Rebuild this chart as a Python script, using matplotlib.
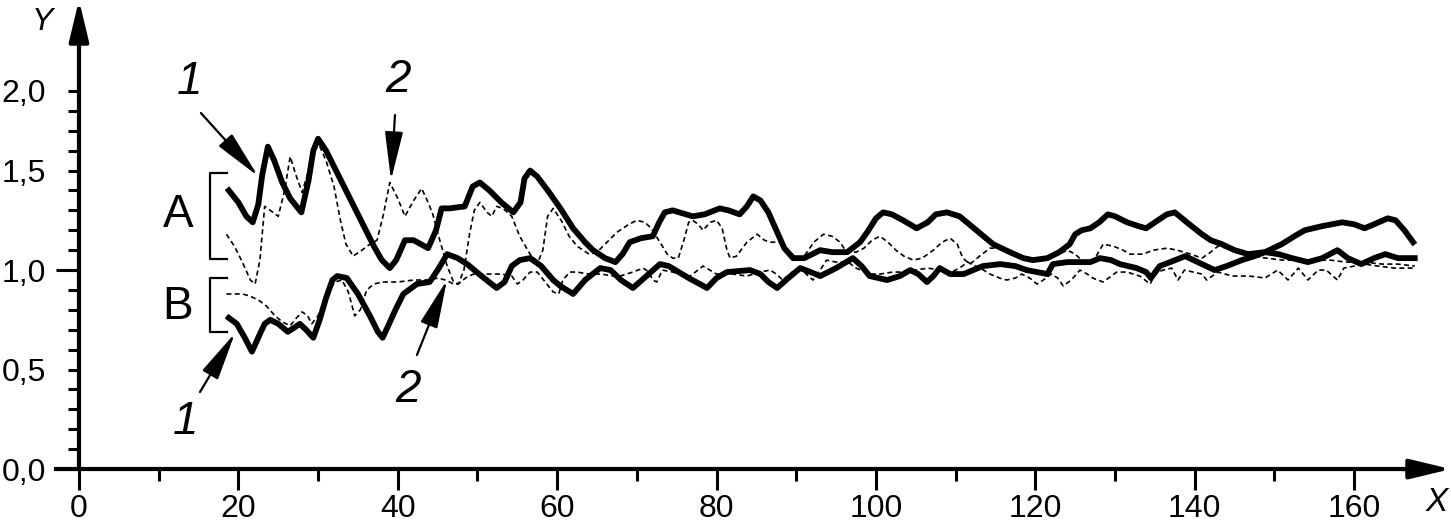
import matplotlib.pyplot as plt

plt.rcParams['font.family'] = ['Liberation Sans', 'DejaVu Sans']

# curve A, line 1 (thick solid)
a1_x = [18.8, 20.0, 21.0, 21.8, 22.5, 23.0, 23.7, 24.5, 25.5, 26.5, 27.9, 28.8, 29.4, 30.0, 31.0,
        32.5, 34.0, 35.5, 37.0, 38.0, 39.0, 39.8, 40.9, 42.0, 43.8, 44.8, 45.5, 46.5, 48.4, 49.4,
        50.3, 51.5, 53.0, 54.5, 55.4, 55.9, 56.6, 57.5, 59.0, 60.4, 62.0, 63.5, 64.5, 66.0, 67.3,
        68.2, 69.1, 70.5, 72.0, 72.8, 73.5, 74.5, 77.0, 78.5, 80.4, 81.5, 82.9, 83.8, 84.6, 85.5,
        86.5, 87.5, 88.5, 89.6, 91.0, 93.0, 94.5, 96.4, 98.0, 98.9, 100.0, 100.9, 102.0, 103.4,
        105.1, 106.5, 107.5, 108.9, 110.5, 112.0, 113.5, 114.7, 116.8, 118.5, 119.7, 121.5, 123.0,
        124.3, 125.0, 125.8, 126.9, 128.0, 129.1, 130.0, 131.5, 133.0, 133.9, 135.0, 136.5, 137.5,
        139.0, 140.9, 142.0, 143.4, 145.0, 146.7, 148.8, 150.9, 152.5, 153.8, 155.9, 158.5, 160.0,
        161.3, 162.5, 164.2, 165.2, 166.3, 167.4]
a1_y = [1.40, 1.34, 1.27, 1.24, 1.33, 1.48, 1.62, 1.55, 1.44, 1.36, 1.29, 1.45, 1.60, 1.66, 1.60,
        1.48, 1.36, 1.24, 1.12, 1.05, 1.01, 1.05, 1.15, 1.15, 1.11, 1.20, 1.31, 1.31, 1.32, 1.42,
        1.44, 1.40, 1.34, 1.29, 1.34, 1.46, 1.50, 1.47, 1.39, 1.31, 1.21, 1.14, 1.10, 1.06, 1.04,
        1.08, 1.14, 1.16, 1.17, 1.24, 1.29, 1.30, 1.27, 1.28, 1.31, 1.30, 1.28, 1.32, 1.37, 1.35,
        1.29, 1.20, 1.11, 1.06, 1.06, 1.10, 1.09, 1.09, 1.14, 1.19, 1.26, 1.29, 1.28, 1.25,
        1.21, 1.24, 1.28, 1.29, 1.27, 1.22, 1.17, 1.13, 1.09, 1.06, 1.05, 1.06, 1.09,
        1.13, 1.18, 1.20, 1.21, 1.24, 1.28, 1.27, 1.24, 1.22, 1.21, 1.24, 1.28, 1.29,
        1.24, 1.18, 1.15, 1.13, 1.10, 1.08, 1.09, 1.13, 1.17, 1.20, 1.22, 1.24, 1.23,
        1.21, 1.23, 1.26, 1.25, 1.20, 1.14]

# curve A, line 2 (thin dashed)
a2_x = [18.5, 19.5, 20.5, 21.5, 22.1, 22.7, 23.3, 24.0, 25.0, 25.8, 26.5, 27.2, 28.0, 28.8, 29.6,
        30.0, 31.0, 32.0, 32.8, 33.5, 34.4, 35.5, 36.5, 37.4, 38.2, 39.0, 40.0, 40.9, 42.0, 43.0,
        43.8, 44.4, 45.2, 46.2, 47.0, 47.6, 48.3, 49.0, 49.6, 50.3, 51.2, 51.8, 52.4, 53.2, 54.3,
        55.3, 56.6, 57.6, 58.2, 58.8, 59.5, 60.5, 61.5, 62.5, 64.0, 65.0, 66.0, 67.5, 69.0, 70.0,
        71.0, 71.8, 72.9, 73.8, 74.5, 75.2, 75.9, 76.5, 77.0, 77.7, 78.3, 79.2, 80.0, 80.7, 81.3,
        81.7, 82.5, 83.8, 85.1, 86.0, 86.7, 88.0, 89.0, 90.0, 91.0, 92.2, 93.4, 94.5, 95.5, 96.3,
        97.5, 98.5, 99.5, 100.5, 101.5, 102.5, 103.5, 104.7, 105.8, 107.2, 108.3, 109.3, 110.2,
        110.9, 111.8, 113.0, 114.3, 115.5, 116.8, 118.5, 120.0, 121.5, 123.0, 124.0, 125.0, 125.8,
        126.8, 127.5, 128.5, 129.8, 131.0, 131.9, 133.5, 134.8, 136.5, 137.8, 139.5, 140.9, 142.0,
        142.9, 144.0, 145.5, 147.0, 149.0, 151.0, 153.0, 155.0, 157.0, 159.0, 161.3, 163.5, 165.5,
        167.6]
a2_y = [1.18, 1.12, 1.04, 0.95, 0.93, 1.05, 1.32, 1.30, 1.27, 1.40, 1.57, 1.48, 1.39, 1.50, 1.62,
        1.64, 1.55, 1.42, 1.25, 1.13, 1.07, 1.10, 1.13, 1.15, 1.28, 1.44, 1.36, 1.27, 1.35, 1.41,
        1.34, 1.28, 1.16, 1.02, 0.94, 0.93, 1.00, 1.18, 1.30, 1.34, 1.29, 1.27, 1.32, 1.31, 1.27,
        1.17, 1.08, 1.04, 1.10, 1.27, 1.31, 1.25, 1.17, 1.12, 1.08, 1.09, 1.13, 1.19, 1.23, 1.25,
        1.24, 1.21, 1.14, 1.08, 1.06, 1.06, 1.15, 1.24, 1.25, 1.23, 1.20, 1.24, 1.25, 1.21, 1.10,
        1.06, 1.07, 1.14, 1.18, 1.15, 1.14, 1.14, 1.10, 1.06, 1.07, 1.14, 1.18, 1.17, 1.14, 1.09,
        1.09, 1.11, 1.15, 1.17, 1.14, 1.10, 1.07, 1.05, 1.06, 1.10, 1.14, 1.16, 1.13,
        1.06, 1.03, 1.07, 1.11, 1.11, 1.09, 1.06, 1.05, 1.06, 1.08, 1.10, 1.08, 1.05,
        1.04, 1.06, 1.13, 1.12, 1.10, 1.08, 1.08, 1.10, 1.11, 1.10, 1.08, 1.06, 1.09,
        1.12, 1.11, 1.09, 1.07, 1.06, 1.05, 1.05, 1.05, 1.05, 1.04, 1.04, 1.03, 1.03,
        1.02]

# curve B, line 1 (thick solid)
b1_x = [18.8, 19.8, 20.8, 21.7, 22.6, 23.3, 24.0, 25.0, 26.2, 27.0, 27.7, 28.5, 29.4, 30.2, 31.0,
        31.8, 32.4, 33.6, 35.0, 36.5, 37.5, 38.1, 38.8, 39.7, 40.7, 42.4, 44.0, 45.0, 46.2, 47.5,
        48.7, 50.5, 52.4, 53.4, 54.3, 55.3, 56.6, 58.0, 59.5, 60.4, 62.0, 63.5, 65.4, 66.7, 68.0,
        69.5, 71.2, 72.9, 74.0, 76.5, 78.8, 80.0, 81.3, 84.2, 85.5, 86.5, 87.6, 89.0, 90.5, 91.8,
        93.0, 95.0, 97.1, 98.2, 99.2, 101.4, 103.0, 104.3, 105.3, 106.4, 107.2, 108.0, 109.3,
        111.0, 112.2, 113.4, 115.6, 117.5, 118.9, 121.5, 122.2, 124.0, 126.9, 128.1, 129.5, 130.6,
        132.7, 133.9, 134.5, 135.6, 136.9, 138.8, 140.9, 142.5, 144.0, 145.9, 147.5, 148.8, 150.5,
        152.2, 154.2, 156.0, 157.9, 159.2, 160.9, 162.5, 163.9, 165.5, 167.6]
b1_y = [0.76, 0.73, 0.66, 0.59, 0.67, 0.73, 0.75, 0.73, 0.69, 0.71, 0.73, 0.70, 0.66, 0.75, 0.86,
        0.95, 0.97, 0.96, 0.88, 0.77, 0.69, 0.66, 0.72, 0.80, 0.88, 0.93, 0.94, 1.00, 1.08, 1.06,
        1.03, 0.97, 0.91, 0.94, 1.02, 1.05, 1.06, 1.02, 0.95, 0.92, 0.88, 0.95, 1.01, 1.00, 0.95,
        0.91, 0.97, 1.03, 1.02, 0.96, 0.91, 0.96, 0.99, 1.00, 0.98, 0.94, 0.91, 0.96, 1.01, 0.99,
        0.97, 1.01, 1.06, 1.02, 0.97, 0.95, 0.97, 1.00, 0.98, 0.94, 0.97, 1.01, 0.98,
        0.98, 1.00, 1.02, 1.03, 1.02, 1.00, 0.98, 1.03, 1.04, 1.04, 1.06, 1.05, 1.03,
        1.01, 0.99, 0.96, 1.02, 1.04, 1.07, 1.03, 1.00, 1.02, 1.05, 1.07, 1.09, 1.08,
        1.06, 1.04, 1.06, 1.10, 1.06, 1.03, 1.06, 1.08, 1.06, 1.06]

# curve B, line 2 (thin dashed)
b2_x = [18.5, 19.5, 20.5, 21.4, 22.5, 23.5, 24.6, 25.5, 26.5, 27.3, 28.0, 28.7, 29.2, 30.0, 31.0,
        32.1, 33.0, 33.8, 34.6, 35.3, 36.1, 37.0, 38.1, 40.0, 42.0, 44.0, 45.0, 46.0, 47.0, 47.6,
        48.5, 49.5, 51.0, 53.0, 54.3, 55.0, 55.7, 56.6, 57.5, 58.5, 59.5, 60.2, 60.7, 61.6, 62.5,
        64.0, 65.5, 67.0, 67.9, 69.5, 70.8, 71.5, 72.0, 72.5, 73.2, 74.5, 76.0, 76.7, 78.3, 80.0,
        82.0, 83.8, 85.5, 86.7, 87.5, 88.3, 89.5, 90.5, 91.5, 92.1, 93.0, 93.8, 95.0, 96.5, 97.5,
        99.2, 100.5, 102.1, 103.6, 105.0, 106.5, 108.0, 109.5, 110.5, 111.5, 112.5, 113.5, 114.3,
        115.5, 116.4, 117.5, 118.3, 119.3, 120.2, 121.0, 122.0, 122.8, 123.5, 124.5, 125.6, 126.5,
        127.2, 128.5, 130.2, 131.5, 133.1, 134.4, 135.0, 136.0, 137.1, 137.9, 138.7, 139.8, 140.9,
        141.5, 142.9, 144.7, 146.8, 148.8, 150.4, 151.7, 153.0, 154.2, 155.5, 156.5, 157.9, 158.7,
        160.0, 161.3, 163.0, 165.0, 167.6]
b2_y = [0.88, 0.88, 0.88, 0.87, 0.85, 0.82, 0.77, 0.74, 0.72, 0.76, 0.79, 0.77, 0.73, 0.77, 0.87,
        0.94, 0.95, 0.89, 0.77, 0.80, 0.90, 0.93, 0.94, 0.94, 0.95, 0.95, 0.96, 0.95, 0.93, 0.93,
        0.96, 0.98, 0.98, 0.98, 0.97, 0.93, 0.95, 0.99, 0.99, 0.94, 0.89, 0.88, 0.95, 0.99, 0.99,
        0.98, 0.98, 0.97, 0.97, 0.99, 1.01, 0.99, 0.95, 0.94, 1.00, 0.99, 0.97, 0.97, 1.02, 0.98,
        0.98, 0.97, 0.99, 1.00, 0.98, 0.95, 0.99, 1.01, 0.97, 0.95, 1.00, 1.05, 1.04, 1.04, 1.01,
        0.98, 0.98, 0.99, 0.99, 1.00, 1.01, 1.00, 0.99, 1.01, 1.04, 1.02, 1.00, 0.98,
        0.96, 0.95, 0.96, 0.98, 0.96, 0.93, 0.95, 0.98, 0.96, 0.92, 0.95, 1.00, 0.98,
        0.96, 0.94, 0.99, 0.99, 0.97, 0.93, 0.98, 1.00, 1.01, 0.95, 1.00, 0.99, 0.98,
        0.95, 0.99, 0.97, 0.97, 0.96, 1.00, 0.95, 1.01, 0.95, 1.00, 1.00, 0.95, 1.01,
        1.02, 1.03, 1.02, 1.01, 1.01]

x_ticks = [0, 20, 40, 60, 80, 100, 120, 140, 160]
x_minor = [10, 30, 50, 70, 90, 110, 130, 150]
y_ticks = [0.0, 0.5, 1.0, 1.5, 1.9]
y_tick_labels = ['0,0', '0,5', '1,0', '1,5', '2,0']
y_minor = [0.1, 0.2, 0.3, 0.4, 0.6, 0.7, 0.8, 0.9, 1.1, 1.2, 1.3, 1.4, 1.6, 1.7, 1.8]

fig = plt.figure(figsize=(14.51, 5.28), dpi=100)
ax = fig.add_axes([0, 0, 1, 1])
ax.set_xlim(-9.91, 172.15)
ax.set_ylim(-0.296, 2.357)

# curves
ax.plot(a2_x, a2_y, color='k', lw=1.2, ls=(0, (3, 2)), zorder=3)
ax.plot(b2_x, b2_y, color='k', lw=1.2, ls=(0, (3, 2)), zorder=3)
ax.plot(a1_x, a1_y, color='k', lw=4.2, solid_joinstyle='round', zorder=4)
ax.plot(b1_x, b1_y, color='k', lw=4.2, solid_joinstyle='round', zorder=4)

# axes through the origin
for s in ['top', 'right']:
    ax.spines[s].set_visible(False)
ax.spines['left'].set_position(('data', 0))
ax.spines['bottom'].set_position(('data', 0))
ax.spines['left'].set_bounds(0, 2.25)
ax.spines['bottom'].set_bounds(-2.9, 168)
ax.spines['left'].set_linewidth(3)
ax.spines['bottom'].set_linewidth(3)

ax.set_xticks(x_ticks)
ax.set_xticks(x_minor, minor=True)
ax.set_yticks(y_ticks, y_tick_labels)
ax.set_yticks(y_minor, minor=True)
ax.tick_params(axis='x', which='major', direction='out', length=15, width=2.2,
               labelsize=23, pad=3)
ax.tick_params(axis='x', which='minor', direction='out', length=8.5, width=2.2)
ax.tick_params(axis='y', which='both', direction='out', length=8, width=2.2)
ax.tick_params(axis='y', which='major', labelsize=23, pad=16)
ax.plot([-2.9, 0], [1.0, 1.0], color='k', lw=2.2, solid_capstyle='butt')

head = '-|>,head_length=1.25,head_width=0.3'
ax.annotate('', xy=(172.15, 0), xytext=(166, 0),
            arrowprops=dict(arrowstyle=head, color='k', lw=3, mutation_scale=20,
                            shrinkA=0, shrinkB=0))
ax.annotate('', xy=(0, 2.357), xytext=(0, 2.2),
            arrowprops=dict(arrowstyle=head, color='k', lw=3, mutation_scale=20,
                            shrinkA=0, shrinkB=0))
ax.text(170.4, -0.17, 'X', fontsize=24, style='italic', ha='center', va='center')
ax.text(-4.6, 2.245, 'Y', fontsize=23, style='italic', ha='center', va='center')

# brackets A and B
ax.plot([18.57, 16.44, 16.44, 18.57], [1.487, 1.487, 1.055, 1.055], color='k', lw=1.6)
ax.plot([18.57, 16.44, 16.44, 18.57], [0.960, 0.960, 0.688, 0.688], color='k', lw=1.6)
ax.text(12.4, 1.276, 'A', fontsize=33, ha='center', va='center')
ax.text(12.4, 0.814, 'B', fontsize=33, ha='center', va='center')

# labelled arrows
small = '-|>,head_length=1.5,head_width=0.28'
labels = [('1', (13.9, 1.945), (15.3, 1.789), (22.46, 1.472)),
          ('2', (40.0, 1.955), (39.65, 1.779), (39.15, 1.452)),
          ('1', (13.4, 0.236), (15.18, 0.387), (19.57, 0.683)),
          ('2', (41.3, 0.397), (42.4, 0.573), (46.17, 0.950))]
for txt, tpos, tail, tip in labels:
    ax.text(tpos[0], tpos[1], txt, fontsize=33, style='italic', ha='center', va='center')
    ax.annotate('', xy=tip, xytext=tail,
                arrowprops=dict(arrowstyle=small, color='k', lw=1.6, mutation_scale=20,
                                shrinkA=0, shrinkB=0))

fig.savefig('out.png', dpi=100)
